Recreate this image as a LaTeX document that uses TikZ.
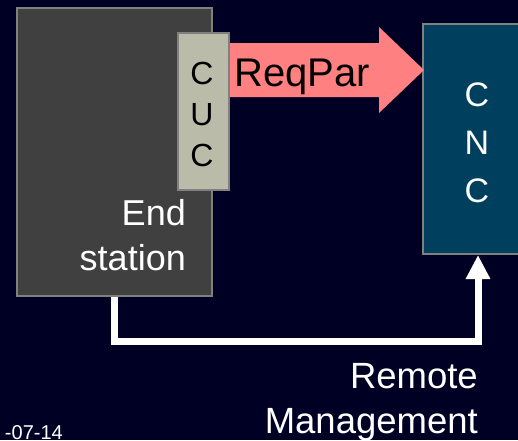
\documentclass[tikz,border=0pt]{standalone}
\usepackage{fontspec}
\setmainfont{Liberation Sans}
\usetikzlibrary{arrows.meta}
\definecolor{bgc}{RGB}{0,0,36}
\definecolor{esc}{RGB}{64,64,64}
\definecolor{bordc}{RGB}{128,128,128}
\definecolor{cucc}{RGB}{187,187,170}
\definecolor{cncc}{RGB}{0,64,94}
\definecolor{reqc}{RGB}{255,128,128}
\begin{document}
\begin{tikzpicture}[x=1pt,y=-1pt,
  box/.style={draw=bordc, line width=2pt, inner sep=0pt, anchor=north west},
  lbl/.style={inner sep=0pt, text=white},
  mgmt/.style={draw=white, line width=7pt, line join=miter, -{Triangle[width=23pt,length=24pt]}}
]
\fill[bgc] (0,0) rectangle (518,440);
\useasboundingbox (0,0) rectangle (518,440);
% boxes
\node[box, fill=esc, minimum width=195pt, minimum height=288pt] (es) at (16,7) {};
\node[box, fill=cucc, minimum width=51pt, minimum height=157pt] (cuc) at (177,32) {};
\node[box, fill=cncc, minimum width=110pt, minimum height=230pt] (cnc) at (422,23) {};
% ReqPar arrow
\fill[reqc] (cuc.east |- 0,43) -- (379,43) -- (379,27) -- ([xshift=2pt]cnc.west |- 0,70)
  -- (379,113) -- (379,97) -- (cuc.east |- 0,97) -- cycle;
% remote management connector
\draw[mgmt] (es.south) -- (es.south |- 0,341.5) -| (cnc.south);
% texts
\node[lbl, font=\fontsize{36}{45}\selectfont, align=right, anchor=base east] (estxt) at (186,270) {End\\station};
\node[lbl, text=black, font=\fontsize{32}{41}\selectfont, align=center] (cuctxt) at (202,114) {C\\U\\C};
\node[lbl, font=\fontsize{34}{48}\selectfont, align=center] (cnctxt) at (477,143) {C\\N\\C};
\node[lbl, text=black, font=\fontsize{40}{48}\selectfont, anchor=base west] (reqtxt) at (234,86) {ReqPar};
\node[lbl, font=\fontsize{36.5}{45}\selectfont, align=right, anchor=base east] (rmtxt) at (478,433) {Remote\\Management};
\node[lbl, font=\fontsize{20}{24}\selectfont, anchor=base east] (date) at (63,439) {-07-14};
\end{tikzpicture}
\end{document}
